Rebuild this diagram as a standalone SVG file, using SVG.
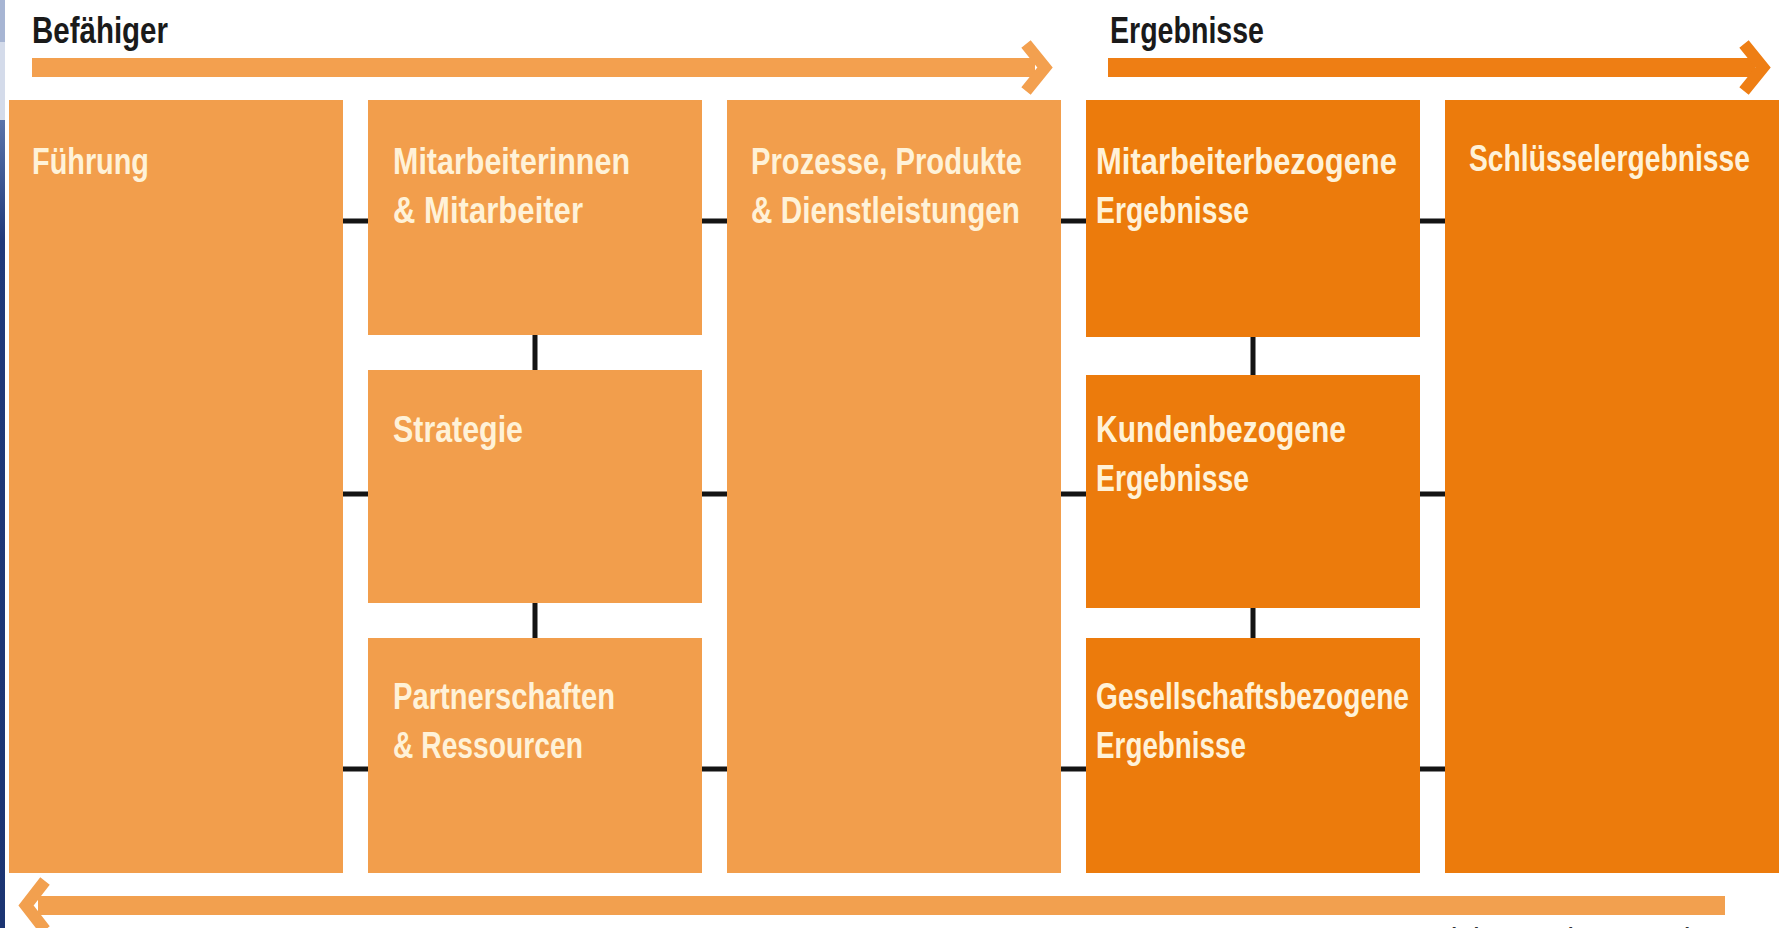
<svg xmlns="http://www.w3.org/2000/svg" width="1785" height="928" viewBox="0 0 1785 928">
  <defs>
    <style>
      .enabler { fill: #f29e4c; }
      .result { fill: #ec7b0c; }
      .lbl { font-family: "Liberation Sans Narrow", "Liberation Sans", Arial, sans-serif; font-size: 37px; font-weight: bold; fill: #fff2d8; }
      .head { font-family: "Liberation Sans Narrow", "Liberation Sans", Arial, sans-serif; font-size: 36px; font-weight: bold; fill: #1a1a1a; }
      .foot { font-family: "Liberation Sans Narrow", "Liberation Sans", Arial, sans-serif; font-size: 34px; fill: #333333; }
      .dash { stroke: #141414; stroke-width: 5; fill: none; }
      .chev { fill: none; stroke-width: 12; stroke-linejoin: miter; stroke-linecap: butt; }
    </style>
    <linearGradient id="edgeBlue" x1="0" y1="0" x2="0" y2="1">
      <stop offset="0" stop-color="#5a74aa"/>
      <stop offset="0.15" stop-color="#20397a"/>
      <stop offset="1" stop-color="#1b3472"/>
    </linearGradient>
  </defs>

  <rect width="1785" height="928" fill="#ffffff"/>

  <!-- slide edge strip -->
  <rect x="0" y="0" width="5" height="42" fill="#a7b5d3"/>
  <rect x="0" y="42" width="5" height="78" fill="#d4dbea"/>
  <rect x="0" y="120" width="5" height="808" fill="url(#edgeBlue)"/>

  <!-- headings -->
  <text class="head" x="32" y="43" textLength="136" lengthAdjust="spacingAndGlyphs">Befähiger</text>
  <text class="head" x="1110" y="43" textLength="154" lengthAdjust="spacingAndGlyphs">Ergebnisse</text>

  <!-- flow arrows -->
  <g id="arrows">
    <rect x="32" y="58" width="1003" height="19" fill="#f3a04f"/>
    <polyline class="chev" points="1026,44 1045,67.5 1026,91" stroke="#f3a04f"/>
    <rect x="1108" y="58" width="647" height="19" fill="#ee7e14"/>
    <polyline class="chev" points="1744,44 1763,67.5 1744,91" stroke="#ee7e14"/>
    <rect x="38" y="896" width="1687" height="19" fill="#f2a04f"/>
    <polyline class="chev" points="45,881 26,905.5 45,930" stroke="#f2a04f"/>
  </g>

  <!-- caption running below the lower edge -->
  <text class="foot" x="1725" y="951" text-anchor="end" textLength="461" lengthAdjust="spacingAndGlyphs">Lernen, Kreativität und Innovation</text>

  <!-- connectors -->
  <g id="connectors">
    <!-- horizontal links between columns -->
    <path class="dash" d="M343 221H368M702 221H727M1061 221H1086M1420 221H1445"/>
    <path class="dash" d="M343 494H368M702 494H727M1061 494H1086M1420 494H1445"/>
    <path class="dash" d="M343 769H368M702 769H727M1061 769H1086M1420 769H1445"/>
    <!-- vertical links inside stacked columns -->
    <path class="dash" d="M535 335V370M535 603V638"/>
    <path class="dash" d="M1253 337V375M1253 608V638"/>
  </g>

  <!-- enablers -->
  <g id="fuehrung">
    <rect class="enabler" x="9" y="100" width="334" height="773"/>
    <text class="lbl" x="32" y="174" textLength="117" lengthAdjust="spacingAndGlyphs">Führung</text>
  </g>
  <g id="mitarbeiter">
    <rect class="enabler" x="368" y="100" width="334" height="235"/>
    <text class="lbl" x="393" y="174" textLength="237" lengthAdjust="spacingAndGlyphs">Mitarbeiterinnen</text>
    <text class="lbl" x="393" y="223" textLength="190" lengthAdjust="spacingAndGlyphs">&amp; Mitarbeiter</text>
  </g>
  <g id="strategie">
    <rect class="enabler" x="368" y="370" width="334" height="233"/>
    <text class="lbl" x="393" y="442" textLength="130" lengthAdjust="spacingAndGlyphs">Strategie</text>
  </g>
  <g id="partnerschaften">
    <rect class="enabler" x="368" y="638" width="334" height="235"/>
    <text class="lbl" x="393" y="709" textLength="222" lengthAdjust="spacingAndGlyphs">Partnerschaften</text>
    <text class="lbl" x="393" y="758" textLength="190" lengthAdjust="spacingAndGlyphs">&amp; Ressourcen</text>
  </g>
  <g id="prozesse">
    <rect class="enabler" x="727" y="100" width="334" height="773"/>
    <text class="lbl" x="751" y="174" textLength="271" lengthAdjust="spacingAndGlyphs">Prozesse, Produkte</text>
    <text class="lbl" x="751" y="223" textLength="269" lengthAdjust="spacingAndGlyphs">&amp; Dienstleistungen</text>
  </g>

  <!-- results -->
  <g id="mitarbeiterergebnisse">
    <rect class="result" x="1086" y="100" width="334" height="237"/>
    <text class="lbl" x="1096" y="174" textLength="301" lengthAdjust="spacingAndGlyphs">Mitarbeiterbezogene</text>
    <text class="lbl" x="1096" y="223" textLength="153" lengthAdjust="spacingAndGlyphs">Ergebnisse</text>
  </g>
  <g id="kundenergebnisse">
    <rect class="result" x="1086" y="375" width="334" height="233"/>
    <text class="lbl" x="1096" y="442" textLength="250" lengthAdjust="spacingAndGlyphs">Kundenbezogene</text>
    <text class="lbl" x="1096" y="491" textLength="153" lengthAdjust="spacingAndGlyphs">Ergebnisse</text>
  </g>
  <g id="gesellschaftsergebnisse">
    <rect class="result" x="1086" y="638" width="334" height="235"/>
    <text class="lbl" x="1096" y="709" textLength="313" lengthAdjust="spacingAndGlyphs">Gesellschaftsbezogene</text>
    <text class="lbl" x="1096" y="758" textLength="150" lengthAdjust="spacingAndGlyphs">Ergebnisse</text>
  </g>
  <g id="schluesselergebnisse">
    <rect class="result" x="1445" y="100" width="334" height="773"/>
    <text class="lbl" x="1469" y="171" textLength="281" lengthAdjust="spacingAndGlyphs">Schlüsselergebnisse</text>
  </g>
</svg>
